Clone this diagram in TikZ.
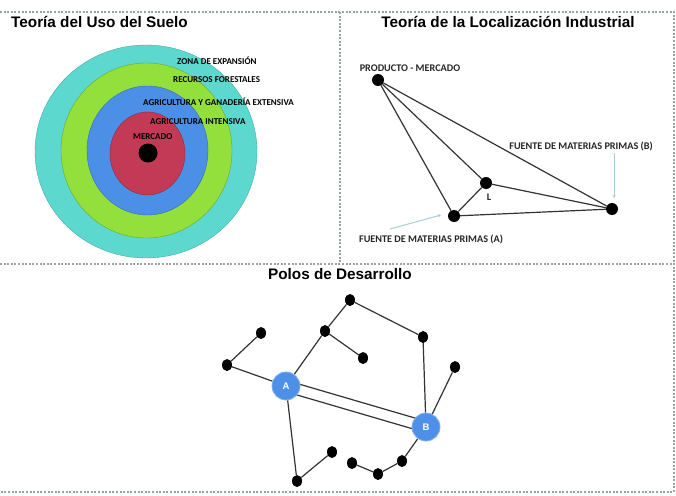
\documentclass[tikz,border=0pt]{standalone}
\usepackage{fontspec}
\setmainfont{Liberation Sans}
\newfontfamily\lbl{Carlito}
\usetikzlibrary{arrows.meta,shapes.geometric,backgrounds}
\definecolor{cyanz}{HTML}{5CD8CF}
\definecolor{greenz}{HTML}{93E03C}
\definecolor{bluez}{HTML}{4C8FE6}
\definecolor{redz}{HTML}{C23A55}
\definecolor{dashc}{HTML}{9AA3A3}
\definecolor{pointer}{HTML}{A8CBDD}
\definecolor{poleblue}{HTML}{4E8FE8}
\begin{document}
\begin{tikzpicture}[x=1pt,y=-1pt,
  frame/.style={draw=dashc,line width=1.2pt,dash pattern=on 2pt off 1.6pt},
  ttl/.style={font=\fontsize{15.3}{17}\selectfont\bfseries,anchor=center},
  zone/.style={font=\lbl\fontsize{9}{10}\selectfont\bfseries,text=black,inner sep=0pt},
  flabel/.style={font=\lbl\fontsize{10.2}{11}\selectfont\bfseries,text=black!85,inner sep=0pt},
  dot/.style={circle,fill=black,inner sep=0pt,minimum size=12pt},
  sdot/.style={ellipse,fill=black,inner sep=0pt,minimum width=10pt,minimum height=12pt},
  pole/.style={circle,fill=poleblue,draw=poleblue!70!white,line width=0.8pt,inner sep=0pt,minimum size=28pt,text=white,font=\fontsize{9.5}{10}\selectfont\bfseries},
  edge/.style={draw=black!80,line width=1.2pt},
  ptr/.style={draw=pointer,line width=1pt,-{Stealth[length=3pt,width=3pt]}}
]
\useasboundingbox (0,0) rectangle (676,495);
\begin{scope}[on background layer]
\fill[white] (0,0) rectangle (676,495);
\end{scope}
% frames
\draw[frame] (0,12) -- (674,12) -- (674,492) -- (0,492);
\draw[frame] (0,264) -- (674,264);
\draw[frame] (340,12) -- (340,264);
% ---------- Panel 1 ----------
\node[ttl] (t1) at (99.5,22) {Teoría del Uso del Suelo};
\fill[cyanz,draw=cyanz!80!black,line width=0.4pt] (146,151.5) ellipse [x radius=111,y radius=106.5];
\fill[greenz,draw=greenz!75!black,line width=0.4pt] (146.5,150.5) ellipse [x radius=85.5,y radius=87.5];
\fill[bluez,draw=bluez!75!black,line width=0.4pt] (147.5,150.5) ellipse [x radius=60.5,y radius=64.5];
\fill[redz,draw=redz!75!black,line width=0.4pt] (147.5,153.5) ellipse [x radius=37.5,y radius=41.5];
\node[circle,fill=black,inner sep=0pt,minimum size=19pt] (m) at (148,153) {};
\node[zone,anchor=west] (z1) at (177,61) {ZONA DE EXPANSIÓN};
\node[zone,anchor=west] (z2) at (173,80) {RECURSOS FORESTALES};
\node[zone,anchor=west] (z3) at (143,102) {AGRICULTURA Y GANADERÍA EXTENSIVA};
\node[zone,anchor=west] (z4) at (150,122) {AGRICULTURA INTENSIVA};
\node[zone,anchor=west] (z5) at (133,137) {MERCADO};
% ---------- Panel 2 ----------
\node[ttl] (t2) at (508,22) {Teoría de la Localización Industrial};
\node[dot] (pm) at (378,80) {};
\node[dot] (fa) at (454,216) {};
\node[dot] (ll) at (486,183) {};
\node[dot] (fb) at (612,209) {};
\draw[edge] (pm) -- (fa);
\draw[edge] (pm) -- (ll);
\draw[edge] (pm) -- (fb);
\draw[edge] (ll) -- (fa);
\draw[edge] (ll) -- (fb);
\draw[edge] (fa) -- (fb);
\node[flabel] (lpm) at (410,68) {PRODUCTO - MERCADO};
\node[flabel] (lfb) at (581,146) {FUENTE DE MATERIAS PRIMAS (B)};
\node[flabel] (lfa) at (431,239) {FUENTE DE MATERIAS PRIMAS (A)};
\node[flabel] (lL) at (489,197) {L};
\coordinate (pb0) at (614,153);
\coordinate (pb1) at (614,198);
\coordinate (pa0) at (390,229);
\coordinate (pa1) at (441,215);
\draw[ptr] (pb0) -- (pb1);
\draw[ptr] (pa0) -- (pa1);
% ---------- Panel 3 ----------
\node[ttl] (t3) at (340,274) {Polos de Desarrollo};
\node[pole] (A) at (286,386) {A};
\node[pole] (B) at (426,427) {B};
\node[sdot] (n1) at (261,333) {};
\node[sdot] (n2) at (227,365) {};
\node[sdot] (n3) at (350,300) {};
\node[sdot] (n4) at (325,331) {};
\node[sdot] (n5) at (363,358) {};
\node[sdot] (n6) at (423,337) {};
\node[sdot] (n7) at (455,367) {};
\node[sdot] (n8) at (332,452) {};
\node[sdot] (n9) at (297,481) {};
\node[sdot] (n10) at (352,463) {};
\node[sdot] (n11) at (378,474) {};
\node[sdot] (n12) at (402,461) {};
\begin{scope}[on background layer]
\draw[edge] (n1) -- (n2);
\draw[edge] (n2) -- (A);
\draw[edge] (A) -- (n4);
\draw[edge] (n4) -- (n3);
\draw[edge] (n4) -- (n5);
\draw[edge] (n3) -- (n6);
\draw[edge] (n6) -- (B);
\draw[edge] (B) -- (n7);
\draw[edge] (A) -- (n9);
\draw[edge] (n9) -- (n8);
\draw[edge] (B) -- (n12);
\draw[edge] (n12) -- (n11);
\draw[edge] (n11) -- (n10);
\draw[edge] ([shift={(1.5,-5.3)}]A.center) -- ([shift={(1.5,-5.3)}]B.center);
\draw[edge] ([shift={(-1.5,5.3)}]A.center) -- ([shift={(-1.5,5.3)}]B.center);
\end{scope}
\end{tikzpicture}
\end{document}
